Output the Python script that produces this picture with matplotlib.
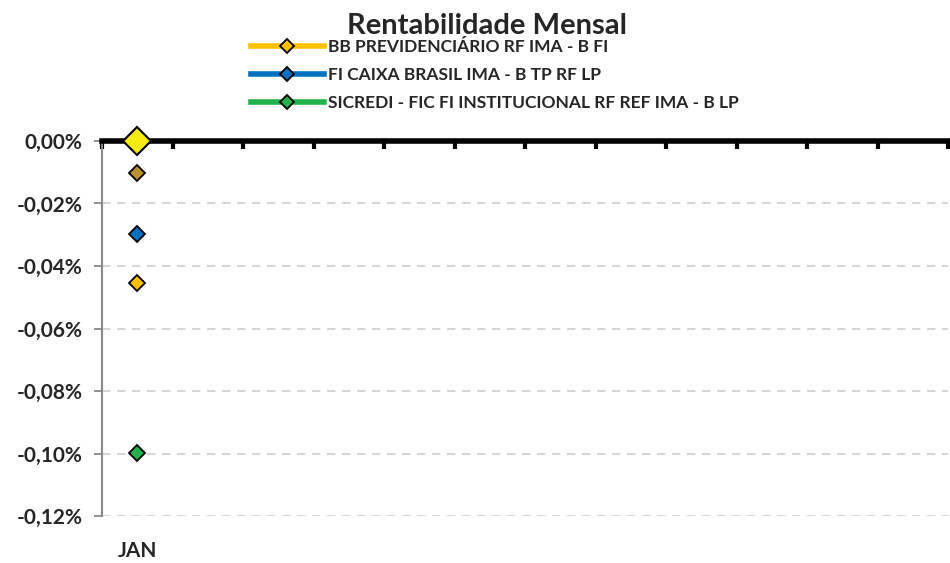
import numpy as np
import matplotlib
matplotlib.use('Agg')
import matplotlib.pyplot as plt
from matplotlib.ticker import FuncFormatter

plt.rcParams['font.family'] = ['Lato', 'DejaVu Sans']

meses = ['JAN'] + [''] * 11
nan = np.nan

# series shown in the legend
bb_prev = [-0.0455] + [nan] * 11
caixa = [-0.0298] + [nan] * 11
sicredi = [-0.0998] + [nan] * 11
# extra series not listed in the legend
outro_1 = [-0.0102] + [nan] * 11
outro_2 = [0.0] + [nan] * 11

fig = plt.figure(figsize=(9.5, 5.63), dpi=100)
ax = fig.add_axes([102 / 950, 1 - 516 / 563, 846 / 950, 375 / 563])

x = np.arange(len(meses))
l1, = ax.plot(x, bb_prev, color='#FFC000', lw=4, marker='D', ms=8,
              mfc='#FFC000', mec='black', mew=1.3, label='BB PREVIDENCIÁRIO RF IMA - B FI')
l2, = ax.plot(x, caixa, color='#0070C0', lw=4, marker='D', ms=8,
              mfc='#0070C0', mec='black', mew=1.3, label='FI CAIXA BRASIL IMA - B TP RF LP')
l3, = ax.plot(x, sicredi, color='#22B14C', lw=4, marker='D', ms=8,
              mfc='#22B14C', mec='black', mew=1.3, label='SICREDI - FIC FI INSTITUCIONAL RF REF IMA - B LP')
ax.plot(x, outro_1, color='#B8902F', lw=4, marker='D', ms=8,
        mfc='#B8902F', mec='black', mew=1.3)
ax.plot(x, outro_2, color='#F5EB14', lw=4, marker='D', ms=14,
        mfc='#F5EB14', mec='black', mew=1.5, zorder=5, clip_on=False)

ax.set_xlim(-0.5, len(meses) - 0.5)
ax.set_ylim(-0.12, 0.0)
ax.set_yticks(np.arange(-0.12, 0.001, 0.02))

def fmt(v, pos):
    if abs(v) < 1e-9:
        v = 0.0
    return f'{v:.2f}%'.replace('.', ',')

ax.yaxis.set_major_formatter(FuncFormatter(fmt))
ax.yaxis.grid(True, color='#D0D0D0', ls=(0, (5, 4)), lw=1.2)
ax.set_axisbelow(True)

ax.set_xticks(x)
ax.set_xticklabels(meses, fontsize=15, fontweight='bold', color='#262626')
ax.tick_params(axis='x', which='major', length=0, pad=18)
ax.set_xticks(np.arange(-0.5, len(meses), 1), minor=True)
ax.tick_params(axis='x', which='minor', top=True, bottom=False, direction='in',
               length=6, width=3, color='black')

ax.tick_params(axis='y', length=6, width=1.3, color='#898989', labelsize=15,
               labelcolor='#262626', pad=8)
for t in ax.get_yticklabels():
    t.set_fontweight('bold')

ax.spines['top'].set_linewidth(4)
ax.spines['top'].set_color('black')
ax.spines['left'].set_color('#898989')
ax.spines['left'].set_linewidth(1.5)
ax.spines['right'].set_visible(False)
ax.spines['bottom'].set_visible(False)

fig.text(0.513, 1 - 34 / 563, 'Rentabilidade Mensal', ha='center', va='baseline',
         fontsize=21, fontweight='bold', color='#262626')

leg = fig.legend(handles=[l1, l2, l3], loc='upper left',
                 bbox_to_anchor=(251 / 950, 1 - 39 / 563), frameon=False,
                 handlelength=4.2, handletextpad=0.25, labelspacing=0.7,
                 prop={'size': 12.5, 'weight': 'bold'}, borderpad=0, borderaxespad=0)
for h in leg.legend_handles:
    h.set_markersize(7)
for t in leg.get_texts():
    t.set_color('#262626')

fig.savefig('out.png', dpi=100)
